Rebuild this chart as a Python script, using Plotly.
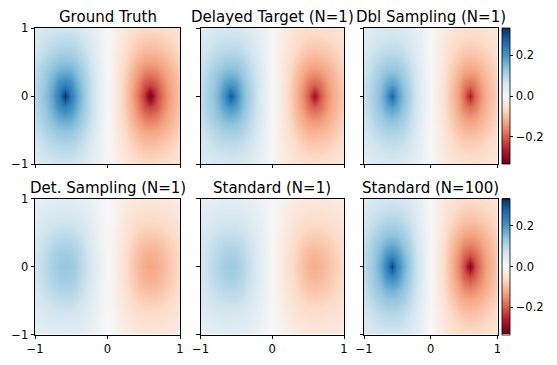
import numpy as np
import plotly.graph_objects as go

# panel titles and peak value (|z| at the lobe centres)
titles = ["Ground Truth", "Delayed Target (N=1)", "Dbl Sampling (N=1)",
          "Det. Sampling (N=1)", "Standard (N=1)", "Standard (N=100)"]
peaks = [0.332, 0.29, 0.27, 0.13, 0.12, 0.31]
shapes = ["sharp", "sharp", "sharp", "broad", "broad", "sharp"]

# normalised field, quadrant x in [-1, 0] (step 1/12), y in [0, 1] (step 1/6)
# rows go from y=0 up to y=1; the field is odd in x and even in y
sharp_quad = [
    [0.288, 0.36, 0.44, 0.55, 0.71, 1.00, 0.71, 0.53, 0.40, 0.28, 0.17, 0.074, 0.0],
    [0.28, 0.348, 0.42, 0.51, 0.63, 0.69, 0.63, 0.495, 0.38, 0.27, 0.168, 0.072, 0.0],
    [0.26, 0.317, 0.38, 0.44, 0.50, 0.52, 0.50, 0.427, 0.342, 0.247, 0.156, 0.067, 0.0],
    [0.23, 0.276, 0.323, 0.367, 0.40, 0.41, 0.40, 0.356, 0.29, 0.215, 0.138, 0.061, 0.0],
    [0.197, 0.231, 0.267, 0.296, 0.318, 0.327, 0.318, 0.287, 0.24, 0.18, 0.118, 0.055, 0.0],
    [0.17, 0.192, 0.215, 0.235, 0.25, 0.256, 0.25, 0.228, 0.194, 0.15, 0.102, 0.048, 0.0],
    [0.147, 0.161, 0.176, 0.188, 0.195, 0.198, 0.195, 0.182, 0.158, 0.126, 0.088, 0.042, 0.0],
]
broad_quad = [
    [0.511, 0.617, 0.73, 0.843, 0.942, 1.00, 0.942, 0.818, 0.657, 0.481, 0.307, 0.134, 0.0],
    [0.497, 0.596, 0.70, 0.804, 0.887, 0.925, 0.887, 0.78, 0.63, 0.465, 0.298, 0.131, 0.0],
    [0.457, 0.539, 0.628, 0.712, 0.769, 0.79, 0.769, 0.69, 0.565, 0.42, 0.274, 0.121, 0.0],
    [0.399, 0.467, 0.53, 0.59, 0.63, 0.644, 0.63, 0.572, 0.477, 0.364, 0.239, 0.106, 0.0],
    [0.33, 0.386, 0.435, 0.475, 0.50, 0.511, 0.50, 0.461, 0.392, 0.301, 0.198, 0.09, 0.0],
    [0.266, 0.306, 0.343, 0.372, 0.39, 0.397, 0.39, 0.361, 0.309, 0.239, 0.16, 0.074, 0.0],
    [0.204, 0.234, 0.26, 0.28, 0.295, 0.30, 0.295, 0.272, 0.234, 0.183, 0.122, 0.054, 0.0],
]

cbar_ticks = [-0.2, 0.0, 0.2]
cbar_text = ["\u22120.2", "0.0", "0.2"]
axis_ticks = [-1, 0, 1]
axis_text = ["\u22121", "0", "1"]
zlim = 0.332

# matplotlib RdBu
rdbu = ["#67001f", "#b2182b", "#d6604d", "#f4a582", "#fddbc7", "#f7f7f7",
        "#d1e5f0", "#92c5de", "#4393c3", "#2166ac", "#053061"]
colorscale = [[i / 10, c] for i, c in enumerate(rdbu)]


def full_grid(quad):
    rows = []
    for left in quad:
        right = [-v for v in reversed(left[:-1])]
        rows.append(left + right)
    return np.array(rows[:0:-1] + rows)


grids = {"sharp": full_grid(sharp_quad), "broad": full_grid(broad_quad)}
xg = np.linspace(-1, 1, 25)
yg = np.linspace(-1, 1, 13)

W, H = 557, 365
cols = [(35, 180), (200.5, 344), (364, 497.5)]
rows_px = [(28, 164), (198.5, 334.5)]
cbar_x = 502
font = "DejaVu Sans"

fig = go.Figure()
layout = dict(
    width=W, height=H, margin=dict(l=0, r=0, t=0, b=0, autoexpand=False),
    paper_bgcolor="white", plot_bgcolor="white",
    font=dict(family=font, size=11.5, color="black"),
    showlegend=False,
)
annotations = []

for i, title in enumerate(titles):
    r, c = divmod(i, 3)
    n = "" if i == 0 else str(i + 1)
    x0, x1 = cols[c]
    y0, y1 = rows_px[r]
    z = grids[shapes[i]] * peaks[i]
    show = c == 2
    fig.add_trace(go.Heatmap(
        x=xg, y=yg, z=z, zsmooth="best",
        colorscale=colorscale, zmin=-zlim, zmax=zlim,
        showscale=show,
        colorbar=dict(
            x=cbar_x / W, xanchor="left", xpad=0,
            y=1 - y1 / H, yanchor="bottom", ypad=0,
            len=(y1 - y0) / H, lenmode="fraction",
            thickness=8, thicknessmode="pixels",
            outlinewidth=0.8, outlinecolor="black",
            ticks="outside", ticklen=3.5, tickwidth=0.8, tickcolor="black",
            tickvals=cbar_ticks, ticktext=cbar_text,
            tickfont=dict(family=font, size=11.5, color="black"),
        ) if show else None,
        xaxis="x" + n, yaxis="y" + n, hoverinfo="skip",
    ))
    common = dict(
        range=[-1, 1], showgrid=False, zeroline=False,
        showline=True, linecolor="black", linewidth=0.8, mirror=True,
        ticks="outside", ticklen=3.5, tickwidth=0.8, tickcolor="black",
        tickvals=axis_ticks, ticktext=axis_text,
        tickfont=dict(family=font, size=11.5, color="black"),
    )
    layout["xaxis" + n] = dict(common, domain=[x0 / W, x1 / W], anchor="y" + n,
                               showticklabels=(r == 1))
    layout["yaxis" + n] = dict(common, domain=[1 - y1 / H, 1 - y0 / H], anchor="x" + n,
                               showticklabels=(c == 0))
    annotations.append(dict(
        text=title, x=(x0 + x1) / 2 / W, y=1 - y0 / H, xref="paper", yref="paper",
        xanchor="center", yanchor="bottom", yshift=0, showarrow=False,
        font=dict(family=font, size=15, color="black"),
    ))

layout["annotations"] = annotations
fig.update_layout(**layout)
# drop the default 8px body margin so the figure sits at the page corner
fig.write_html("out.html", config={"displayModeBar": False},
               post_script="document.body.style.margin='0';")
